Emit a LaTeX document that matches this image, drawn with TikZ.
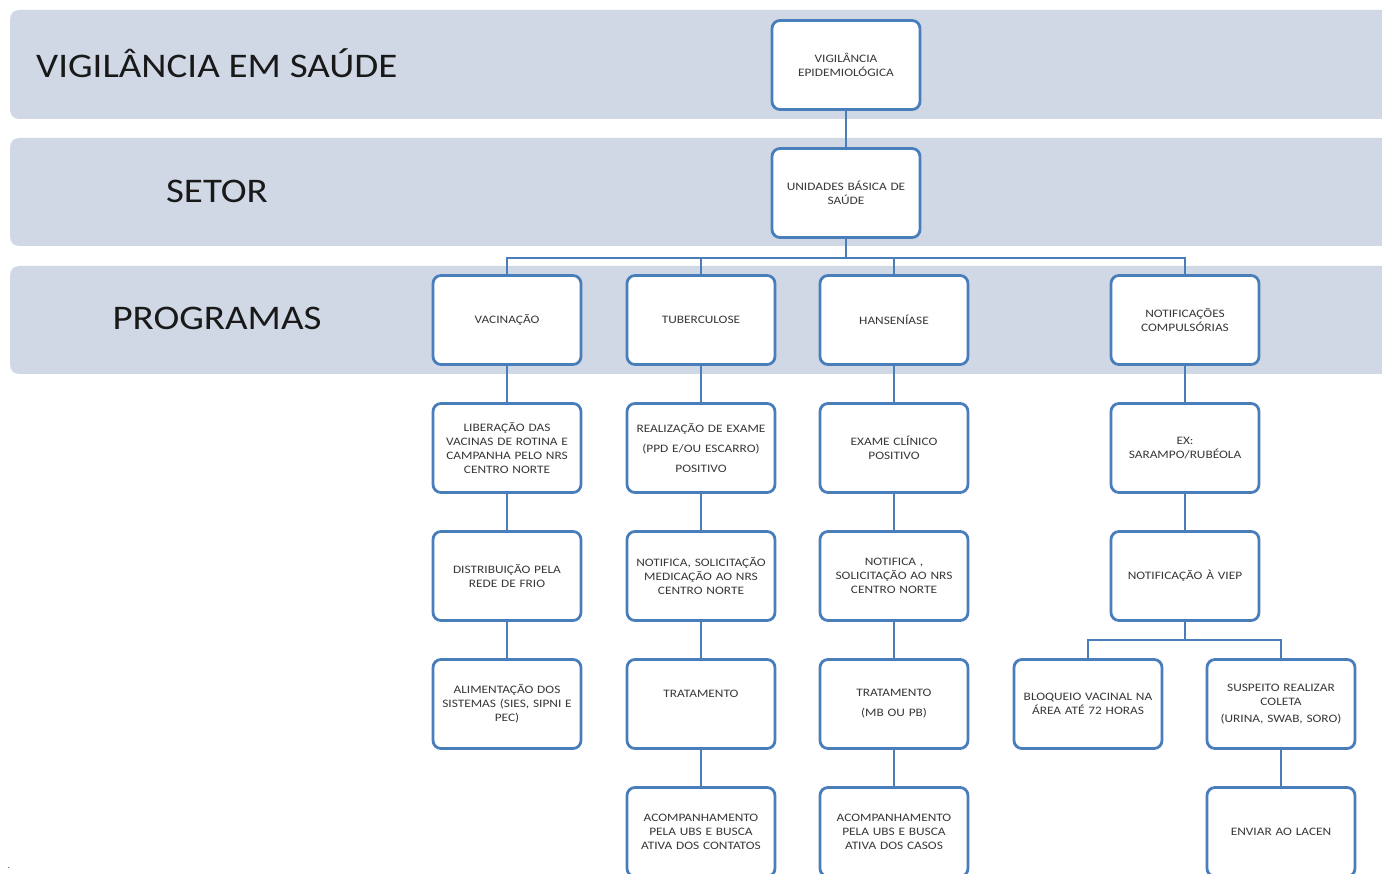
\documentclass[tikz,border=0pt]{standalone}
\usepackage{fontspec}
\setmainfont{Carlito}
\newfontfamily\boxfont[FakeStretch=1.17]{Carlito}
\newfontfamily\bigfont[FakeStretch=1.13]{Carlito}
\definecolor{bandc}{HTML}{D0D8E6}
\definecolor{boxc}{HTML}{4A7EBB}
\definecolor{txtc}{HTML}{383838}
\begin{document}
\begin{tikzpicture}[x=1pt,y=-1pt,
  band/.style={fill=bandc, draw=none, rounded corners=9pt},
  bandlabel/.style={font=\bigfont\fontsize{34.5}{40}\selectfont, text=black!90, inner sep=0pt},
  box/.style={draw=boxc, line width=2.8pt, fill=white, rounded corners=8pt,
    minimum width=148pt, minimum height=89pt, text width=146pt, align=center,
    font=\boxfont\fontsize{11.4}{14}\selectfont, text=txtc, inner sep=0pt},
  wide/.style={font=\boxfont\fontsize{11.4}{20}\selectfont},
  conn/.style={draw=boxc, line width=2.8pt}]
\useasboundingbox (0,0) rectangle (1382,874);
\begin{scope}
\clip (0,0) rectangle (1382,874);
\fill[band] (10,10) rectangle (1400,119);
\fill[band] (10,138) rectangle (1400,246);
\fill[band] (10,266) rectangle (1400,374);
\end{scope}
\node[bandlabel, anchor=west] (l1) at (36,63) {VIGILÂNCIA EM SAÚDE};
\node[bandlabel] (l2) at (217,191) {SETOR};
\node[bandlabel] (l3) at (217,318) {PROGRAMAS};
\node[font=\fontsize{8}{8}\selectfont, inner sep=0pt] (dot) at (9,868) {.};

\node[box] (ve) at (846,65) {VIGILÂNCIA\\EPIDEMIOLÓGICA};
\node[box] (ubs) at (846,193) {UNIDADES BÁSICA DE\\SAÚDE};

\node[box] (vac) at (507,320) {VACINAÇÃO};
\node[box] (tb) at (701,320) {TUBERCULOSE};
\node[box] (han) at (894,320) {HANSENÍASE};
\node[box] (notif) at (1185,320) {NOTIFICAÇÕES\\COMPULSÓRIAS};

\node[box] (lib) at (507,448) {LIBERAÇÃO DAS\\VACINAS DE ROTINA E\\CAMPANHA PELO NRS\\CENTRO NORTE};
\node[box, wide] (rex) at (701,448) {REALIZAÇÃO DE EXAME\\(PPD E/OU ESCARRO)\\POSITIVO};
\node[box] (ecl) at (894,448) {EXAME CLÍNICO\\POSITIVO};
\node[box] (ex) at (1185,448) {EX:\\SARAMPO/RUBÉOLA};

\node[box] (dist) at (507,576) {DISTRIBUIÇÃO PELA\\REDE DE FRIO};
\node[box] (ntb) at (701,576) {NOTIFICA, SOLICITAÇÃO\\MEDICAÇÃO AO NRS\\CENTRO NORTE};
\node[box] (nhan) at (894,576) {NOTIFICA ,\\SOLICITAÇÃO AO NRS\\CENTRO NORTE};
\node[box] (viep) at (1185,576) {NOTIFICAÇÃO À VIEP};

\node[box] (alim) at (507,704) {ALIMENTAÇÃO DOS\\SISTEMAS (SIES, SIPNI E\\PEC)};
\node[box, wide] (trat) at (701,704) {TRATAMENTO\\\mbox{}};
\node[box, wide] (trath) at (894,704) {TRATAMENTO\\(MB OU PB)};
\node[box] (bloq) at (1088,704) {BLOQUEIO VACINAL NA\\ÁREA ATÉ 72 HORAS};
\node[box] (susp) at (1281,704) {SUSPEITO REALIZAR\\COLETA\\[3pt](URINA, SWAB, SORO)};

\node[box] (acomp1) at (701,832) {ACOMPANHAMENTO\\PELA UBS E BUSCA\\ATIVA DOS CONTATOS};
\node[box] (acomp2) at (894,832) {ACOMPANHAMENTO\\PELA UBS E BUSCA\\ATIVA DOS CASOS};
\node[box] (lacen) at (1281,832) {ENVIAR AO LACEN};

\coordinate (b1) at (846,258);
\coordinate (b2) at (1185,640);

\path[conn] (ve) -- (ubs);
\path[conn] (ubs) -- (b1);
\path[conn] (vac.north) |- (b1) -| (notif.north);
\path[conn] (tb.north) -- (tb.north |- b1);
\path[conn] (han.north) -- (han.north |- b1);
\path[conn] (vac) -- (lib); \path[conn] (lib) -- (dist); \path[conn] (dist) -- (alim);
\path[conn] (tb) -- (rex); \path[conn] (rex) -- (ntb); \path[conn] (ntb) -- (trat); \path[conn] (trat) -- (acomp1);
\path[conn] (han) -- (ecl); \path[conn] (ecl) -- (nhan); \path[conn] (nhan) -- (trath); \path[conn] (trath) -- (acomp2);
\path[conn] (notif) -- (ex); \path[conn] (ex) -- (viep);
\path[conn] (viep) -- (b2);
\path[conn] (bloq.north) |- (b2) -| (susp.north);
\path[conn] (susp) -- (lacen);
\end{tikzpicture}
\end{document}
